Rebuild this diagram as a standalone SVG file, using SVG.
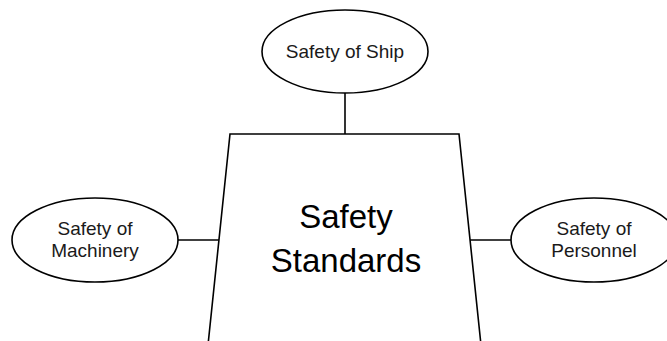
<svg xmlns="http://www.w3.org/2000/svg" width="667" height="341" viewBox="0 0 667 341">
  <style>
    .shape { fill: #ffffff; stroke: #000000; stroke-width: 1.6; }
    .link { stroke: #000000; stroke-width: 1.6; fill: none; }
    .label { font-family: "Liberation Sans", Arial, sans-serif; font-size: 19px; fill: #1a1a1a; text-anchor: middle; }
    .title { font-family: "Liberation Sans", Arial, sans-serif; font-size: 33px; fill: #000000; text-anchor: middle; }
  </style>
  <rect width="667" height="341" fill="#ffffff"/>

  <!-- connectors between the central block and the surrounding ellipses -->
  <g id="connectors">
    <line class="link" x1="345" y1="93" x2="345" y2="134"/>
    <line class="link" x1="178" y1="240" x2="219" y2="240"/>
    <line class="link" x1="470" y1="240" x2="511" y2="240"/>
  </g>

  <g id="safety-standards">
    <polygon class="shape" points="230,134 459,134 481,345 208,345"/>
    <text class="title" x="346" y="228">Safety</text>
    <text class="title" x="346" y="272">Standards</text>
  </g>

  <g id="safety-of-ship">
    <ellipse class="shape" cx="345" cy="51.5" rx="83" ry="41.5"/>
    <text class="label" x="345" y="58">Safety of Ship</text>
  </g>

  <g id="safety-of-machinery">
    <ellipse class="shape" cx="95" cy="240" rx="83" ry="42"/>
    <text class="label" x="95" y="235">Safety of</text>
    <text class="label" x="95" y="257">Machinery</text>
  </g>

  <g id="safety-of-personnel">
    <ellipse class="shape" cx="594" cy="240" rx="83" ry="42"/>
    <text class="label" x="594" y="235">Safety of</text>
    <text class="label" x="594" y="257">Personnel</text>
  </g>
</svg>
